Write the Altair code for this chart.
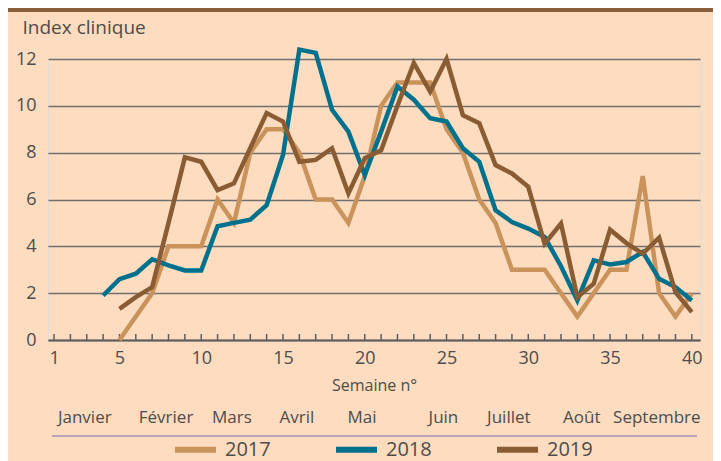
import altair as alt
import pandas as pd

# ---- data ----
weeks_2017 = list(range(5, 41))
values_2017 = [0, 1, 2, 4, 4, 4, 6, 5, 8, 9, 9, 8, 6, 6, 5, 7, 10, 11, 11, 11,
               9, 8, 6, 5, 3, 3, 3, 2, 1, 2, 3, 3, 7, 2, 1, 2]

weeks_2018 = list(range(4, 41))
values_2018 = [1.9, 2.6, 2.83, 3.45, 3.19, 2.97, 2.97, 4.86, 5.0, 5.14, 5.76, 7.9,
               12.4, 12.26, 9.83, 8.9, 7.04, 8.9, 10.83, 10.26, 9.47, 9.33, 8.19, 7.61,
               5.54, 5.04, 4.76, 4.4, 3.15, 1.69, 3.4, 3.23, 3.33, 3.76, 2.61, 2.26, 1.69]

weeks_2019 = list(range(5, 41))
values_2019 = [1.33, 1.83, 2.26, 5.0, 7.8, 7.61, 6.4, 6.69, 8.2, 9.69, 9.33, 7.61,
               7.69, 8.19, 6.26, 7.76, 8.1, 10.0, 11.83, 10.6, 12.0, 9.6, 9.26, 7.47,
               7.11, 6.54, 4.11, 4.97, 1.83, 2.4, 4.71, 4.14, 3.69, 4.37, 2.04, 1.19]

years = ["2017", "2018", "2019"]
colors = ["#C9935B", "#00718D", "#8A5C33"]

month_names = ["Janvier", "Février", "Mars", "Avril", "Mai", "Juin", "Juillet", "Août", "Septembre"]
month_weeks = [2.88, 7.85, 11.88, 15.85, 19.83, 24.81, 28.81, 33.27, 37.86]

tick_weeks = list(range(1, 41))
x_label_values = [1, 5, 10, 15, 20, 25, 30, 35, 40]
y_values = [0, 2, 4, 6, 8, 10, 12]

# ---- tables ----
rows = []
for yr, wk, vals in zip(years, [weeks_2017, weeks_2018, weeks_2019],
                        [values_2017, values_2018, values_2019]):
    for w, v in zip(wk, vals):
        rows.append({"week": w, "value": v, "year": yr})
df = pd.DataFrame(rows)
ticks_df = pd.DataFrame({"week": tick_weeks})
months_df = pd.DataFrame({"week": month_weeks, "month": month_names})

W, H = 652, 281
xscale = alt.Scale(domain=[0.63, 40.5], nice=False, zero=False)

lines = alt.Chart(df).mark_line(strokeWidth=4.5, strokeJoin="miter").encode(
    x=alt.X("week:Q", scale=xscale,
            axis=alt.Axis(values=x_label_values, grid=False, ticks=False,
                          domain=True, domainColor="#5E5E5E", domainWidth=2,
                          labelFontSize=18, labelColor="#4D4D4D", labelPadding=9,
                          labelFont="Open Sans",
                          title="Semaine n°", titleFontSize=16, titleFontWeight="normal",
                          titleColor="#4D4D4D", titleFont="Open Sans",
                          titleY=45, titleBaseline="middle")),
    y=alt.Y("value:Q", scale=alt.Scale(domain=[0, 12], nice=False),
            axis=alt.Axis(values=y_values, grid=True, gridColor="#707070", gridWidth=1.4,
                          ticks=False, domain=False,
                          labelFontSize=18, labelColor="#4D4D4D", labelPadding=12,
                          labelFont="Open Sans",
                          title="Index clinique", titleAngle=0, titleAlign="left",
                          titleBaseline="alphabetic", titleX=-26, titleY=-26,
                          titleFontSize=19, titleFontWeight="normal",
                          titleColor="#4D4D4D", titleFont="Open Sans")),
    color=alt.Color("year:N", scale=alt.Scale(domain=years, range=colors),
                    legend=alt.Legend(title=None, orient="none", legendX=124, legendY=367,
                                      direction="horizontal", symbolType="stroke",
                                      symbolSize=1681, symbolStrokeWidth=6,
                                      labelFontSize=20, labelColor="#4D4D4D",
                                      labelFont="Open Sans", labelOffset=6,
                                      columnPadding=53, padding=0)),
)

ticks = alt.Chart(ticks_df).mark_rule(color="#5E5E5E", strokeWidth=1.5).encode(
    x=alt.X("week:Q", scale=xscale),
    y=alt.value(H - 6),
    y2=alt.value(H),
)

months = alt.Chart(months_df).mark_text(
    fontSize=17, color="#4D4D4D", font="Open Sans", baseline="alphabetic", align="center"
).encode(
    x=alt.X("week:Q", scale=xscale),
    y=alt.value(364),
    text="month:N",
)

separator = alt.Chart(alt.Data(values=[{}])).mark_rule(color="#A294BF", strokeWidth=1.5).encode(
    x=alt.value(4), x2=alt.value(649), y=alt.value(377)
)

top_bar = alt.Chart(alt.Data(values=[{}])).mark_rule(color="#8B5E3C", strokeWidth=4).encode(
    x=alt.value(-40), x2=alt.value(665), y=alt.value(-49)
)

chart = alt.layer(top_bar, ticks, lines, months, separator).properties(
    width=W, height=H,
    autosize=alt.AutoSizeParams(type="none"),
    padding={"left": 40, "top": 51, "right": 13, "bottom": 121},
    background="#FDDCBF",
).configure_view(stroke=None).configure(font="Open Sans")

chart.save("out.html", embed_options={"renderer": "svg", "actions": False})
